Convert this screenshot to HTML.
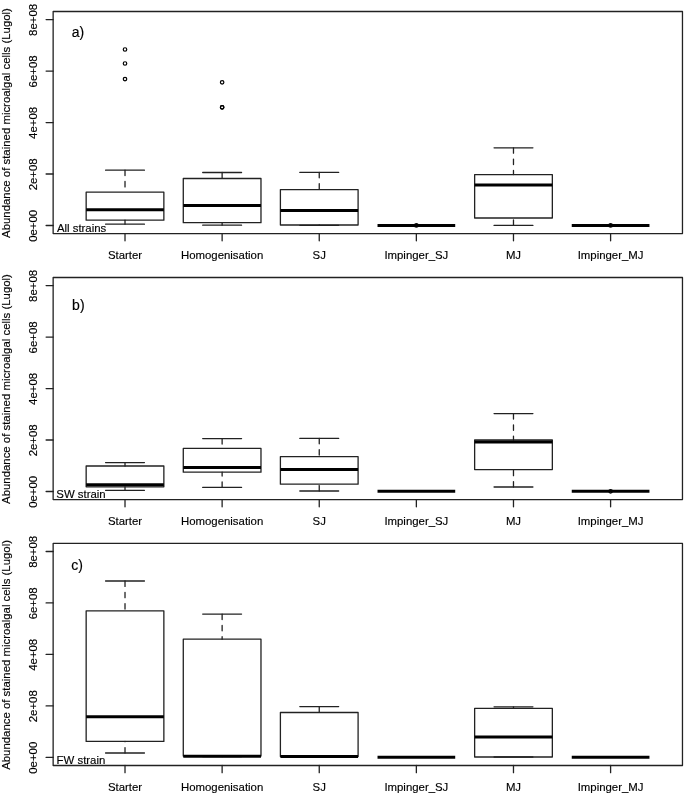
<!DOCTYPE html>
<html><head><meta charset="utf-8"><title>Boxplots</title>
<style>
html,body{margin:0;padding:0;background:#fff;width:685px;height:795px;overflow:hidden}
svg{display:block;will-change:transform}
text{font-family:"Liberation Sans",sans-serif;font-size:11.4px;fill:#000;stroke:#000;stroke-width:0.15px}
.ln{fill:none;stroke:#222;stroke-width:1.3;stroke-linecap:round;stroke-linejoin:round}
.md{stroke:#000;stroke-width:3.0;stroke-linecap:butt}
.pt{fill:none;stroke:#000;stroke-width:1.2}
</style></head>
<body>
<svg width="685" height="795" viewBox="0 0 685 795">
<rect width="685" height="795" fill="#fff"/>
<rect x="53.14" y="11.48" width="629.33" height="222.12" class="ln"/>
<line x1="46.1" y1="225.5" x2="53.14" y2="225.5" class="ln"/>
<text x="0" y="0" transform="translate(37.2,225.85) rotate(-90)" text-anchor="middle">0e+00</text>
<line x1="46.1" y1="174.02" x2="53.14" y2="174.02" class="ln"/>
<text x="0" y="0" transform="translate(37.2,174.37) rotate(-90)" text-anchor="middle">2e+08</text>
<line x1="46.1" y1="122.54" x2="53.14" y2="122.54" class="ln"/>
<text x="0" y="0" transform="translate(37.2,122.89) rotate(-90)" text-anchor="middle">4e+08</text>
<line x1="46.1" y1="71.06" x2="53.14" y2="71.06" class="ln"/>
<text x="0" y="0" transform="translate(37.2,71.41) rotate(-90)" text-anchor="middle">6e+08</text>
<line x1="46.1" y1="19.58" x2="53.14" y2="19.58" class="ln"/>
<text x="0" y="0" transform="translate(37.2,19.93) rotate(-90)" text-anchor="middle">8e+08</text>
<text x="0" y="0" transform="translate(9.8,123.04) rotate(-90)" text-anchor="middle">Abundance of stained microalgal cells (Lugol)</text>
<line x1="125.01" y1="233.6" x2="125.01" y2="240.8" class="ln"/>
<text x="125.01" y="258.7" text-anchor="middle">Starter</text>
<line x1="222.13" y1="233.6" x2="222.13" y2="240.8" class="ln"/>
<text x="222.13" y="258.7" text-anchor="middle">Homogenisation</text>
<line x1="319.25" y1="233.6" x2="319.25" y2="240.8" class="ln"/>
<text x="319.25" y="258.7" text-anchor="middle">SJ</text>
<line x1="416.36" y1="233.6" x2="416.36" y2="240.8" class="ln"/>
<text x="416.36" y="258.7" text-anchor="middle">Impinger_SJ</text>
<line x1="513.48" y1="233.6" x2="513.48" y2="240.8" class="ln"/>
<text x="513.48" y="258.7" text-anchor="middle">MJ</text>
<line x1="610.6" y1="233.6" x2="610.6" y2="240.8" class="ln"/>
<text x="610.6" y="258.7" text-anchor="middle">Impinger_MJ</text>
<line x1="125.01" y1="170.2" x2="125.01" y2="192.2" class="ln" stroke-dasharray="5.4 5.9"/>
<line x1="125.01" y1="224.2" x2="125.01" y2="220.2" class="ln" stroke-dasharray="5.4 5.9"/>
<line x1="105.58" y1="170.2" x2="144.43" y2="170.2" class="ln"/>
<line x1="105.58" y1="224.2" x2="144.43" y2="224.2" class="ln"/>
<rect x="86.16" y="192.2" width="77.7" height="28" class="ln"/>
<line x1="86.16" y1="209.8" x2="163.86" y2="209.8" class="md"/>
<circle cx="125.01" cy="49.5" r="1.75" class="pt"/>
<circle cx="125.01" cy="63.5" r="1.75" class="pt"/>
<circle cx="125.01" cy="79.1" r="1.75" class="pt"/>
<line x1="222.13" y1="172.5" x2="222.13" y2="178.5" class="ln" stroke-dasharray="5.4 5.9"/>
<line x1="222.13" y1="225.2" x2="222.13" y2="222.7" class="ln" stroke-dasharray="5.4 5.9"/>
<line x1="202.7" y1="172.5" x2="241.55" y2="172.5" class="ln"/>
<line x1="202.7" y1="225.2" x2="241.55" y2="225.2" class="ln"/>
<rect x="183.28" y="178.5" width="77.7" height="44.2" class="ln"/>
<line x1="183.28" y1="205.6" x2="260.97" y2="205.6" class="md"/>
<circle cx="222.13" cy="82.35" r="1.75" class="pt"/>
<circle cx="222.13" cy="107.3" r="1.75" class="pt"/>
<circle cx="222.13" cy="107.3" r="1.75" class="pt"/>
<line x1="319.25" y1="172.4" x2="319.25" y2="189.6" class="ln" stroke-dasharray="5.4 5.9"/>
<line x1="319.25" y1="225.3" x2="319.25" y2="225" class="ln" stroke-dasharray="5.4 5.9"/>
<line x1="299.82" y1="172.4" x2="338.67" y2="172.4" class="ln"/>
<line x1="299.82" y1="225.3" x2="338.67" y2="225.3" class="ln"/>
<rect x="280.4" y="189.6" width="77.7" height="35.4" class="ln"/>
<line x1="280.4" y1="210.4" x2="358.09" y2="210.4" class="md"/>
<line x1="396.94" y1="225.4" x2="435.79" y2="225.4" class="ln"/>
<line x1="396.94" y1="225.4" x2="435.79" y2="225.4" class="ln"/>
<rect x="377.52" y="225.4" width="77.7" height="0" class="ln"/>
<line x1="377.52" y1="225.4" x2="455.21" y2="225.4" class="md"/>
<circle cx="416.36" cy="225.4" r="1.75" class="pt"/>
<line x1="513.48" y1="147.8" x2="513.48" y2="174.6" class="ln" stroke-dasharray="5.4 5.9"/>
<line x1="513.48" y1="225.4" x2="513.48" y2="218" class="ln" stroke-dasharray="5.4 5.9"/>
<line x1="494.06" y1="147.8" x2="532.91" y2="147.8" class="ln"/>
<line x1="494.06" y1="225.4" x2="532.91" y2="225.4" class="ln"/>
<rect x="474.64" y="174.6" width="77.7" height="43.4" class="ln"/>
<line x1="474.64" y1="185" x2="552.33" y2="185" class="md"/>
<line x1="591.18" y1="225.4" x2="630.03" y2="225.4" class="ln"/>
<line x1="591.18" y1="225.4" x2="630.03" y2="225.4" class="ln"/>
<rect x="571.75" y="225.4" width="77.7" height="0" class="ln"/>
<line x1="571.75" y1="225.4" x2="649.45" y2="225.4" class="md"/>
<circle cx="610.6" cy="225.4" r="1.75" class="pt"/>
<text x="71.7" y="36.9" style="font-size:14px">a)</text>
<text x="56.9" y="231.7">All strains</text>
<rect x="53.14" y="277.48" width="629.33" height="222.12" class="ln"/>
<line x1="46.1" y1="491.5" x2="53.14" y2="491.5" class="ln"/>
<text x="0" y="0" transform="translate(37.2,491.85) rotate(-90)" text-anchor="middle">0e+00</text>
<line x1="46.1" y1="440.02" x2="53.14" y2="440.02" class="ln"/>
<text x="0" y="0" transform="translate(37.2,440.37) rotate(-90)" text-anchor="middle">2e+08</text>
<line x1="46.1" y1="388.54" x2="53.14" y2="388.54" class="ln"/>
<text x="0" y="0" transform="translate(37.2,388.89) rotate(-90)" text-anchor="middle">4e+08</text>
<line x1="46.1" y1="337.06" x2="53.14" y2="337.06" class="ln"/>
<text x="0" y="0" transform="translate(37.2,337.41) rotate(-90)" text-anchor="middle">6e+08</text>
<line x1="46.1" y1="285.58" x2="53.14" y2="285.58" class="ln"/>
<text x="0" y="0" transform="translate(37.2,285.93) rotate(-90)" text-anchor="middle">8e+08</text>
<text x="0" y="0" transform="translate(9.8,389.04) rotate(-90)" text-anchor="middle">Abundance of stained microalgal cells (Lugol)</text>
<line x1="125.01" y1="499.6" x2="125.01" y2="506.8" class="ln"/>
<text x="125.01" y="524.7" text-anchor="middle">Starter</text>
<line x1="222.13" y1="499.6" x2="222.13" y2="506.8" class="ln"/>
<text x="222.13" y="524.7" text-anchor="middle">Homogenisation</text>
<line x1="319.25" y1="499.6" x2="319.25" y2="506.8" class="ln"/>
<text x="319.25" y="524.7" text-anchor="middle">SJ</text>
<line x1="416.36" y1="499.6" x2="416.36" y2="506.8" class="ln"/>
<text x="416.36" y="524.7" text-anchor="middle">Impinger_SJ</text>
<line x1="513.48" y1="499.6" x2="513.48" y2="506.8" class="ln"/>
<text x="513.48" y="524.7" text-anchor="middle">MJ</text>
<line x1="610.6" y1="499.6" x2="610.6" y2="506.8" class="ln"/>
<text x="610.6" y="524.7" text-anchor="middle">Impinger_MJ</text>
<line x1="125.01" y1="462.6" x2="125.01" y2="466" class="ln" stroke-dasharray="5.4 5.9"/>
<line x1="125.01" y1="490.3" x2="125.01" y2="486.8" class="ln" stroke-dasharray="5.4 5.9"/>
<line x1="105.58" y1="462.6" x2="144.43" y2="462.6" class="ln"/>
<line x1="105.58" y1="490.3" x2="144.43" y2="490.3" class="ln"/>
<rect x="86.16" y="466" width="77.7" height="20.8" class="ln"/>
<line x1="86.16" y1="484.8" x2="163.86" y2="484.8" class="md"/>
<line x1="222.13" y1="438.6" x2="222.13" y2="448.4" class="ln" stroke-dasharray="5.4 5.9"/>
<line x1="222.13" y1="487.4" x2="222.13" y2="472.2" class="ln" stroke-dasharray="5.4 5.9"/>
<line x1="202.7" y1="438.6" x2="241.55" y2="438.6" class="ln"/>
<line x1="202.7" y1="487.4" x2="241.55" y2="487.4" class="ln"/>
<rect x="183.28" y="448.4" width="77.7" height="23.8" class="ln"/>
<line x1="183.28" y1="467.6" x2="260.97" y2="467.6" class="md"/>
<line x1="319.25" y1="438.4" x2="319.25" y2="456.6" class="ln" stroke-dasharray="5.4 5.9"/>
<line x1="319.25" y1="491" x2="319.25" y2="484.2" class="ln" stroke-dasharray="5.4 5.9"/>
<line x1="299.82" y1="438.4" x2="338.67" y2="438.4" class="ln"/>
<line x1="299.82" y1="491" x2="338.67" y2="491" class="ln"/>
<rect x="280.4" y="456.6" width="77.7" height="27.6" class="ln"/>
<line x1="280.4" y1="469.6" x2="358.09" y2="469.6" class="md"/>
<line x1="396.94" y1="491.3" x2="435.79" y2="491.3" class="ln"/>
<line x1="396.94" y1="491.3" x2="435.79" y2="491.3" class="ln"/>
<rect x="377.52" y="491.3" width="77.7" height="0" class="ln"/>
<line x1="377.52" y1="491.3" x2="455.21" y2="491.3" class="md"/>
<line x1="513.48" y1="413.6" x2="513.48" y2="440" class="ln" stroke-dasharray="5.4 5.9"/>
<line x1="513.48" y1="487" x2="513.48" y2="469.6" class="ln" stroke-dasharray="5.4 5.9"/>
<line x1="494.06" y1="413.6" x2="532.91" y2="413.6" class="ln"/>
<line x1="494.06" y1="487" x2="532.91" y2="487" class="ln"/>
<rect x="474.64" y="440" width="77.7" height="29.6" class="ln"/>
<line x1="474.64" y1="442" x2="552.33" y2="442" class="md"/>
<line x1="591.18" y1="491.3" x2="630.03" y2="491.3" class="ln"/>
<line x1="591.18" y1="491.3" x2="630.03" y2="491.3" class="ln"/>
<rect x="571.75" y="491.3" width="77.7" height="0" class="ln"/>
<line x1="571.75" y1="491.3" x2="649.45" y2="491.3" class="md"/>
<circle cx="610.6" cy="491.3" r="1.75" class="pt"/>
<text x="72.1" y="309.6" style="font-size:14px">b)</text>
<text x="56.3" y="497.7">SW strain</text>
<rect x="53.14" y="543.38" width="629.33" height="222.12" class="ln"/>
<line x1="46.1" y1="757.4" x2="53.14" y2="757.4" class="ln"/>
<text x="0" y="0" transform="translate(37.2,757.75) rotate(-90)" text-anchor="middle">0e+00</text>
<line x1="46.1" y1="705.92" x2="53.14" y2="705.92" class="ln"/>
<text x="0" y="0" transform="translate(37.2,706.27) rotate(-90)" text-anchor="middle">2e+08</text>
<line x1="46.1" y1="654.44" x2="53.14" y2="654.44" class="ln"/>
<text x="0" y="0" transform="translate(37.2,654.79) rotate(-90)" text-anchor="middle">4e+08</text>
<line x1="46.1" y1="602.96" x2="53.14" y2="602.96" class="ln"/>
<text x="0" y="0" transform="translate(37.2,603.31) rotate(-90)" text-anchor="middle">6e+08</text>
<line x1="46.1" y1="551.48" x2="53.14" y2="551.48" class="ln"/>
<text x="0" y="0" transform="translate(37.2,551.83) rotate(-90)" text-anchor="middle">8e+08</text>
<text x="0" y="0" transform="translate(9.8,654.94) rotate(-90)" text-anchor="middle">Abundance of stained microalgal cells (Lugol)</text>
<line x1="125.01" y1="765.5" x2="125.01" y2="772.7" class="ln"/>
<text x="125.01" y="790.6" text-anchor="middle">Starter</text>
<line x1="222.13" y1="765.5" x2="222.13" y2="772.7" class="ln"/>
<text x="222.13" y="790.6" text-anchor="middle">Homogenisation</text>
<line x1="319.25" y1="765.5" x2="319.25" y2="772.7" class="ln"/>
<text x="319.25" y="790.6" text-anchor="middle">SJ</text>
<line x1="416.36" y1="765.5" x2="416.36" y2="772.7" class="ln"/>
<text x="416.36" y="790.6" text-anchor="middle">Impinger_SJ</text>
<line x1="513.48" y1="765.5" x2="513.48" y2="772.7" class="ln"/>
<text x="513.48" y="790.6" text-anchor="middle">MJ</text>
<line x1="610.6" y1="765.5" x2="610.6" y2="772.7" class="ln"/>
<text x="610.6" y="790.6" text-anchor="middle">Impinger_MJ</text>
<line x1="125.01" y1="581" x2="125.01" y2="610.8" class="ln" stroke-dasharray="5.4 5.9"/>
<line x1="125.01" y1="753" x2="125.01" y2="741.4" class="ln" stroke-dasharray="5.4 5.9"/>
<line x1="105.58" y1="581" x2="144.43" y2="581" class="ln"/>
<line x1="105.58" y1="753" x2="144.43" y2="753" class="ln"/>
<rect x="86.16" y="610.8" width="77.7" height="130.6" class="ln"/>
<line x1="86.16" y1="716.8" x2="163.86" y2="716.8" class="md"/>
<line x1="222.13" y1="614.1" x2="222.13" y2="639.2" class="ln" stroke-dasharray="5.4 5.9"/>
<line x1="222.13" y1="756.5" x2="222.13" y2="756" class="ln" stroke-dasharray="5.4 5.9"/>
<line x1="202.7" y1="614.1" x2="241.55" y2="614.1" class="ln"/>
<line x1="202.7" y1="756.5" x2="241.55" y2="756.5" class="ln"/>
<rect x="183.28" y="639.2" width="77.7" height="116.8" class="ln"/>
<line x1="183.28" y1="756.2" x2="260.97" y2="756.2" class="md"/>
<line x1="319.25" y1="706.6" x2="319.25" y2="712.5" class="ln" stroke-dasharray="5.4 5.9"/>
<line x1="319.25" y1="757" x2="319.25" y2="756.4" class="ln" stroke-dasharray="5.4 5.9"/>
<line x1="299.82" y1="706.6" x2="338.67" y2="706.6" class="ln"/>
<line x1="299.82" y1="757" x2="338.67" y2="757" class="ln"/>
<rect x="280.4" y="712.5" width="77.7" height="43.9" class="ln"/>
<line x1="280.4" y1="756.6" x2="358.09" y2="756.6" class="md"/>
<line x1="396.94" y1="757.2" x2="435.79" y2="757.2" class="ln"/>
<line x1="396.94" y1="757.2" x2="435.79" y2="757.2" class="ln"/>
<rect x="377.52" y="757.2" width="77.7" height="0" class="ln"/>
<line x1="377.52" y1="757.2" x2="455.21" y2="757.2" class="md"/>
<line x1="513.48" y1="706.8" x2="513.48" y2="708.4" class="ln" stroke-dasharray="5.4 5.9"/>
<line x1="494.06" y1="706.8" x2="532.91" y2="706.8" class="ln"/>
<line x1="494.06" y1="757" x2="532.91" y2="757" class="ln"/>
<rect x="474.64" y="708.4" width="77.7" height="48.6" class="ln"/>
<line x1="474.64" y1="737" x2="552.33" y2="737" class="md"/>
<line x1="591.18" y1="757.2" x2="630.03" y2="757.2" class="ln"/>
<line x1="591.18" y1="757.2" x2="630.03" y2="757.2" class="ln"/>
<rect x="571.75" y="757.2" width="77.7" height="0" class="ln"/>
<line x1="571.75" y1="757.2" x2="649.45" y2="757.2" class="md"/>
<text x="71.3" y="569.7" style="font-size:14px">c)</text>
<text x="56.6" y="763.6">FW strain</text>
</svg>
</body></html>
